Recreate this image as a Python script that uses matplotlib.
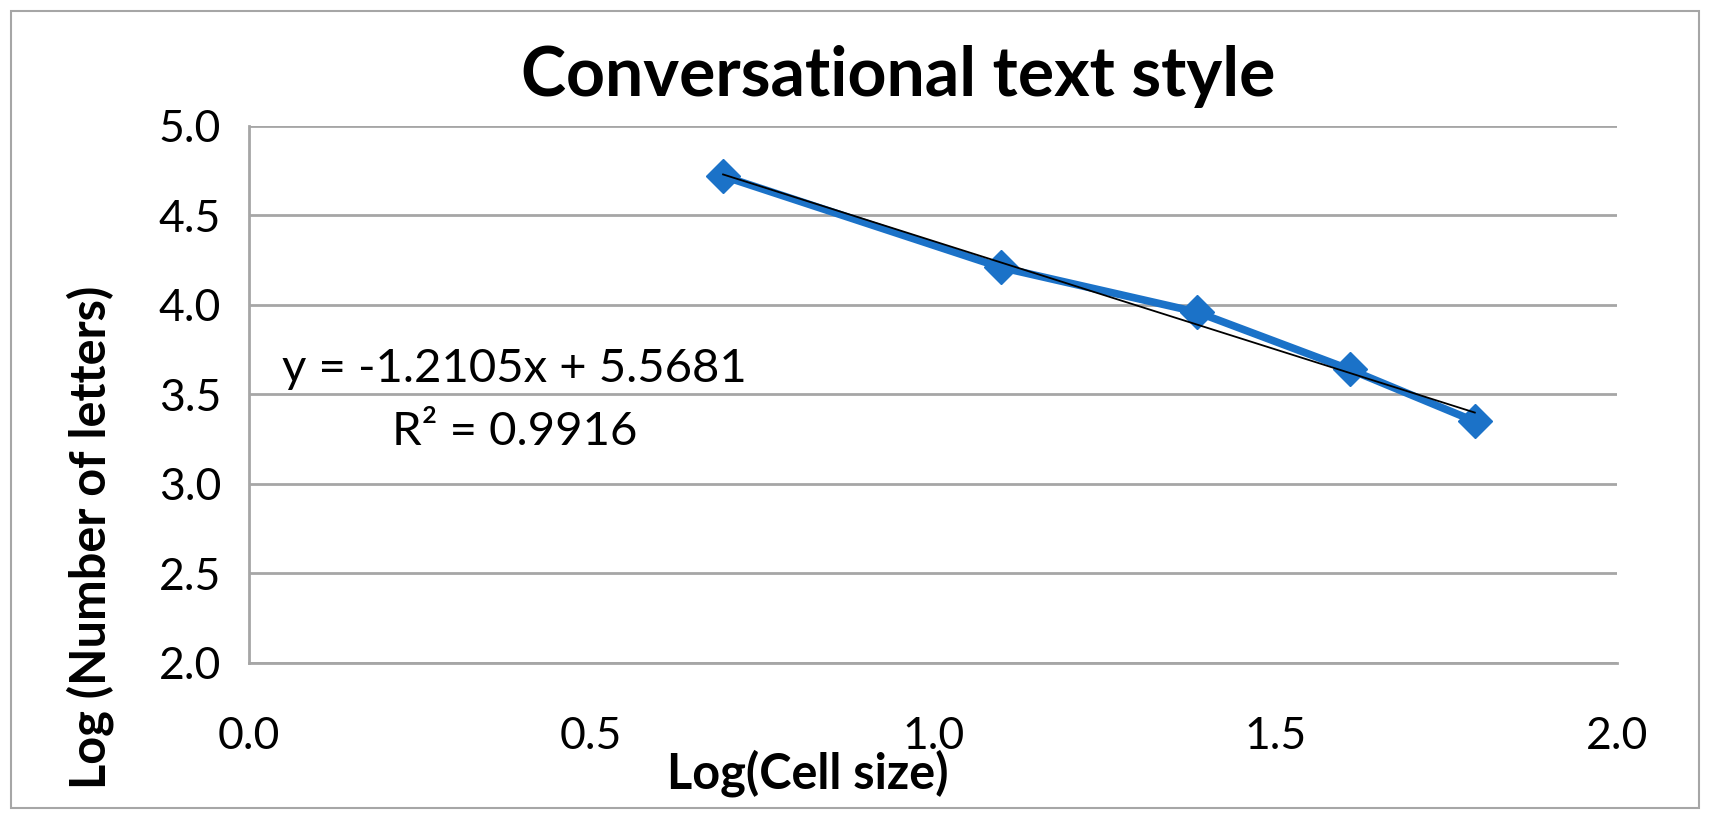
import matplotlib.pyplot as plt
from matplotlib.patches import Rectangle

plt.rcParams['font.family'] = ['Lato', 'DejaVu Sans']

# Данные: логарифм размера ячейки и логарифм числа букв
log_cell = [0.693, 1.099, 1.386, 1.609, 1.792]
log_letters = [4.72, 4.21, 3.96, 3.64, 3.35]

# Линия тренда (из подписи)
slope = -1.2105
intercept = 5.5681
r2 = 0.9916

x_ticks = [0.0, 0.5, 1.0, 1.5, 2.0]
y_ticks = [2.0, 2.5, 3.0, 3.5, 4.0, 4.5, 5.0]

fig = plt.figure(figsize=(17.13, 8.19), dpi=100)
ax = fig.add_axes([0.1454, 0.1905, 0.7986, 0.6557])

# Рамка вокруг всей диаграммы
fig.patches.append(Rectangle((11 / 1713, 11 / 819), 1688 / 1713, 797 / 819,
                             transform=fig.transFigure, fill=False,
                             edgecolor='#a6a6a6', linewidth=1.5))

grid_c = '#a6a6a6'
ax.set_xlim(0, 2.0)
ax.set_ylim(2.0, 5.0)
ax.set_xticks(x_ticks)
ax.set_yticks(y_ticks)
ax.set_xticklabels([f'{v:.1f}' for v in x_ticks])
ax.set_yticklabels([f'{v:.1f}' for v in y_ticks])
ax.tick_params(axis='both', length=0, labelsize=32)
ax.tick_params(axis='y', pad=20)
ax.tick_params(axis='x', pad=38)
ax.yaxis.grid(True, color=grid_c, linewidth=2)
ax.set_axisbelow(True)
for s in ['top', 'right']:
    ax.spines[s].set_visible(False)
for s in ['left', 'bottom']:
    ax.spines[s].set_color(grid_c)
    ax.spines[s].set_linewidth(2)

# Данные
ax.plot(log_cell, log_letters, color='#1b72c8', linewidth=5.5,
        marker='D', markersize=17, zorder=3)

# Линия тренда
xs = [min(log_cell), max(log_cell)]
ax.plot(xs, [slope * v + intercept for v in xs], color='black', linewidth=1.3, zorder=4)

ax.text(0.388, 3.64, f'y = {slope}x + {intercept}', fontsize=34,
        ha='center', va='center')
ax.text(0.388, 3.293, f'R² = {r2}', fontsize=34, ha='center', va='center')

fig.text(0.5242, 0.9066, 'Conversational text style', fontsize=49,
         fontweight='bold', ha='center', va='center')
fig.text(0.4717, 0.0562, 'Log(Cell size)', fontsize=35,
         fontweight='bold', ha='center', va='center')
fig.text(0.0525, 0.3437, 'Log (Number of letters)', fontsize=35,
         fontweight='bold', ha='center', va='center', rotation=90)

fig.savefig('out.png', dpi=100)
